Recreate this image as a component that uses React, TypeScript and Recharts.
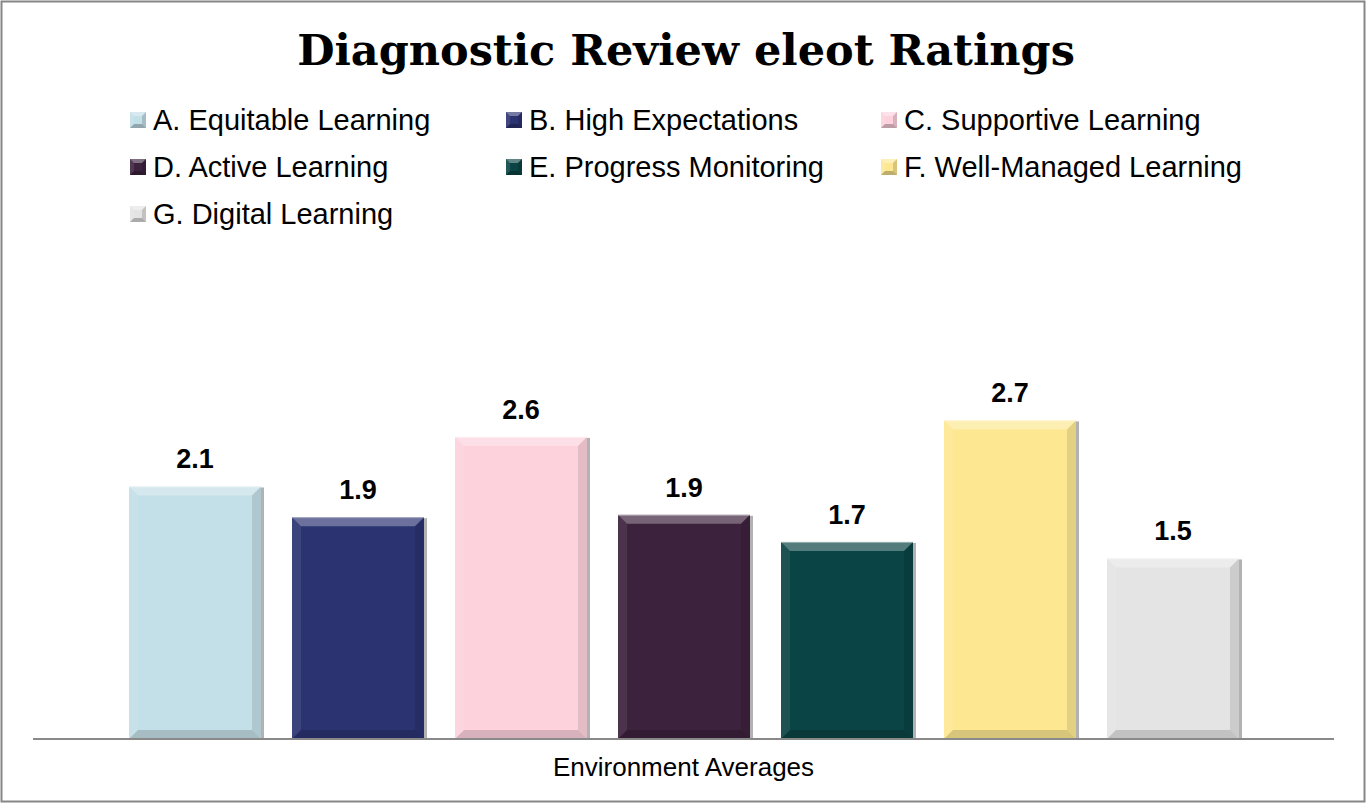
import { Bar, BarChart, LabelList, XAxis, YAxis } from "recharts";

const categories = ["Environment Averages"];
const seriesKeys = ["A", "B", "C", "D", "E", "F", "G"];
const seriesNames = [
  "A. Equitable Learning",
  "B. High Expectations",
  "C. Supportive Learning",
  "D. Active Learning",
  "E. Progress Monitoring",
  "F. Well-Managed Learning",
  "G. Digital Learning",
];
const seriesValues = [2.14, 1.88, 2.56, 1.9, 1.67, 2.7, 1.53];
const seriesColors = ["#c3dfe7", "#2b3371", "#fdd2dd", "#3d223d", "#0b4444", "#fde891", "#e4e4e4"];

const data = categories.map((name) => {
  const row: Record<string, string | number> = { name };
  seriesKeys.forEach((k, i) => (row[k] = seriesValues[i]));
  return row;
});

const W = 1366;
const H = 803;
const sans = "'Liberation Sans', Arial, sans-serif";

function bevel(x: number, y: number, w: number, h: number, b: number) {
  return {
    top: `${x},${y} ${x + w},${y} ${x + w - b},${y + b} ${x + b},${y + b}`,
    left: `${x},${y} ${x + b},${y + b} ${x + b},${y + h - b} ${x},${y + h}`,
    right: `${x + w},${y} ${x + w},${y + h} ${x + w - b},${y + h - b} ${x + w - b},${y + b}`,
    bottom: `${x},${y + h} ${x + b},${y + h - b} ${x + w - b},${y + h - b} ${x + w},${y + h}`,
  };
}

function BevelBar(props: any) {
  const { x, y, width: w, height: h, fill } = props;
  if (!h || h <= 0) return null;
  const b = Math.min(9, w / 4, h / 4);
  const p = bevel(x, y, w, h, b);
  return (
    <g>
      <rect x={x + 1} y={y + 1} width={w + 2} height={h - 1} fill="#7f7f7f" opacity={0.6} />
      <rect x={x} y={y} width={w} height={h} fill={fill} />
      <polygon points={p.top} fill="#fff" opacity={0.3} />
      <polygon points={p.left} fill="#fff" opacity={0.08} />
      <polygon points={p.right} fill="#000" opacity={0.1} />
      <polygon points={p.bottom} fill="#000" opacity={0.15} />
      <line x1={x} y1={y + 0.5} x2={x + w} y2={y + 0.5} stroke="#fff" strokeOpacity={0.4} />
    </g>
  );
}

function LegendMark({ x, y, color }: { x: number; y: number; color: string }) {
  const p = bevel(x, y, 16, 16, 4);
  return (
    <g>
      <rect x={x} y={y} width={16} height={16} fill={color} />
      <polygon points={p.top} fill="#fff" opacity={0.35} />
      <polygon points={p.left} fill="#fff" opacity={0.1} />
      <polygon points={p.right} fill="#000" opacity={0.15} />
      <polygon points={p.bottom} fill="#000" opacity={0.25} />
    </g>
  );
}

const legendCols = [130, 506, 881];
const legendBaselines = [130, 177, 224];

export default function App() {
  return (
    <div style={{ position: "absolute", left: 0, top: 0, width: W, height: H, background: "#fff" }}>
      <BarChart
        width={W}
        height={H}
        data={data}
        margin={{ top: 267, right: 32, bottom: 14, left: 33 }}
        barSize={132}
        barGap={31}
      >
        <XAxis
          dataKey="name"
          height={50}
          tickLine={false}
          tickMargin={13}
          axisLine={{ stroke: "#898989", strokeWidth: 2 }}
          tick={{ fill: "#000", fontSize: 26, fontFamily: sans }}
        />
        <YAxis hide domain={[0, 4]} />
        {seriesKeys.map((k, i) => (
          <Bar key={k} dataKey={k} name={seriesNames[i]} fill={seriesColors[i]} shape={BevelBar} isAnimationActive={false}>
            <LabelList
              dataKey={k}
              position="top"
              offset={18}
              formatter={(v: any) => Number(v).toFixed(1)}
              style={{ fill: "#000", fontSize: 27, fontWeight: 700, fontFamily: sans }}
            />
          </Bar>
        ))}
      </BarChart>
      <svg width={W} height={H} style={{ position: "absolute", left: 0, top: 0, pointerEvents: "none" }}>
        <rect x={1.5} y={1.5} width={W - 3} height={H - 3} fill="none" stroke="#868686" strokeWidth={2} />
        <text
          x={686}
          y={65}
          textAnchor="middle"
          fontFamily="'DejaVu Serif', Georgia, serif"
          fontWeight={700}
          fontSize={43}
          fill="#000"
        >
          Diagnostic Review eleot Ratings
        </text>
        {seriesNames.map((name, i) => {
          const col = legendCols[i % 3];
          const base = legendBaselines[Math.floor(i / 3)];
          return (
            <g key={name}>
              <LegendMark x={col} y={base - 18} color={seriesColors[i]} />
              <text x={col + 23} y={base} fontFamily={sans} fontSize={29} fill="#000">
                {name}
              </text>
            </g>
          );
        })}
      </svg>
    </div>
  );
}
